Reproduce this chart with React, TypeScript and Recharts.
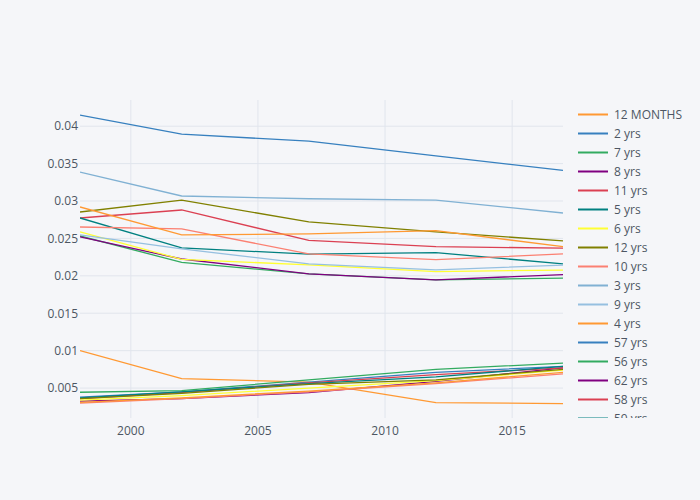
import React from "react";
import { LineChart, Line, XAxis, YAxis, CartesianGrid, Legend } from "recharts";

const years = [1998, 2002, 2007, 2012, 2017];

const seriesNames = [
  "12 MONTHS", "2 yrs", "7 yrs", "8 yrs", "11 yrs", "5 yrs", "6 yrs", "12 yrs",
  "10 yrs", "3 yrs", "9 yrs", "4 yrs", "57 yrs", "56 yrs", "62 yrs", "58 yrs",
  "59 yrs", "60 yrs", "61 yrs", "63 yrs", "64 yrs",
];

const seriesColors = [
  "#ff9933", "#3780bf", "#32ab60", "#800080", "#db4052", "#008080", "#ffff33", "#808000",
  "#fb8072", "#80b1d3", "#96c0e0", "#ff9933", "#3780bf", "#32ab60", "#800080", "#db4052",
  "#008080", "#ffff33", "#808000", "#fb8072", "#ff9933",
];

const v12Months = [0.0100, 0.00627, 0.00580, 0.00305, 0.00293];
const v2yrs = [0.04147, 0.03893, 0.0380, 0.03604, 0.0341];
const v7yrs = [0.02533, 0.02180, 0.02027, 0.01947, 0.0197];
const v8yrs = [0.0252, 0.02225, 0.02027, 0.01947, 0.02017];
const v11yrs = [0.02773, 0.0288, 0.02475, 0.0239, 0.0237];
const v5yrs = [0.02773, 0.02373, 0.0229, 0.0231, 0.0216];
const v6yrs = [0.02587, 0.0222, 0.02147, 0.02057, 0.02077];
const v12yrs = [0.02853, 0.03013, 0.0272, 0.02587, 0.02467];
const v10yrs = [0.02653, 0.02627, 0.02293, 0.02217, 0.02293];
const v3yrs = [0.03387, 0.03067, 0.0303, 0.03013, 0.0284];
const v9yrs = [0.02547, 0.0236, 0.0216, 0.0208, 0.02143];
const v4yrs = [0.0292, 0.02547, 0.0256, 0.02604, 0.0239];
const v57yrs = [0.0038, 0.0045, 0.0058, 0.0071, 0.0079];
const v56yrs = [0.00444, 0.00467, 0.0061, 0.0075, 0.00834];
const v62yrs = [0.00325, 0.0036, 0.0044, 0.0059, 0.0077];
const v58yrs = [0.0036, 0.0044, 0.0057, 0.0068, 0.0077];
const v59yrs = [0.0037, 0.0045, 0.0056, 0.0065, 0.0079];
const v60yrs = [0.0034, 0.0040, 0.0050, 0.0060, 0.0074];
const v61yrs = [0.0036, 0.0043, 0.0055, 0.0061, 0.0075];
const v63yrs = [0.0030, 0.0036, 0.0045, 0.0056, 0.0069];
const v64yrs = [0.0031, 0.0037, 0.0046, 0.0057, 0.0071];

const seriesValues = [
  v12Months, v2yrs, v7yrs, v8yrs, v11yrs, v5yrs, v6yrs, v12yrs, v10yrs, v3yrs, v9yrs,
  v4yrs, v57yrs, v56yrs, v62yrs, v58yrs, v59yrs, v60yrs, v61yrs, v63yrs, v64yrs,
];

// the legend box is scrolled in the reference: only its first 17 entries are in view
const legendVisibleCount = 17;

const xTicks = [2000, 2005, 2010, 2015];
const yTicks = [0.005, 0.01, 0.015, 0.02, 0.025, 0.03, 0.035, 0.04];

const data = years.map((year, i) => {
  const row: Record<string, number> = { year };
  seriesNames.forEach((name, s) => {
    row[name] = seriesValues[s][i];
  });
  return row;
});

const FONT = "'Open Sans', 'Noto Sans', sans-serif";
const TEXT = "#4D5663";

const renderLegend = () => (
  <div style={{ height: 313, overflow: "hidden", fontFamily: FONT, fontSize: 12, color: TEXT }}>
    {seriesNames.slice(0, legendVisibleCount).map((name, i) => (
      <div key={name} style={{ height: 19, display: "flex", alignItems: "center" }}>
        <svg width={36} height={19} style={{ flex: "none" }}>
          <line x1={0} y1={9.5} x2={30} y2={9.5} stroke={seriesColors[i]} strokeWidth={2} />
        </svg>
        <span style={{ whiteSpace: "nowrap" }}>{name}</span>
      </div>
    ))}
  </div>
);

export default function App() {
  return (
    <div style={{ position: "absolute", left: 0, top: 0, width: 700, height: 500, background: "#F5F6F9" }}>
      <LineChart
        width={700}
        height={500}
        data={data}
        margin={{ top: 100, right: 15, bottom: 0, left: 0 }}
        style={{ background: "#F5F6F9" }}
      >
        <CartesianGrid stroke="#E1E5ED" strokeWidth={1} horizontalValues={yTicks} verticalValues={xTicks} />
        <XAxis
          dataKey="year"
          type="number"
          domain={[1998, 2017]}
          ticks={xTicks}
          allowDataOverflow
          axisLine={false}
          tickLine={false}
          height={82}
          tick={{ fill: TEXT, fontSize: 12, fontFamily: FONT }}
        />
        <YAxis
          type="number"
          domain={[0.001, 0.0435]}
          ticks={yTicks}
          allowDataOverflow
          axisLine={false}
          tickLine={false}
          tickSize={0}
          tickMargin={2}
          width={80}
          tickFormatter={(v: number) => String(Number(v.toFixed(3)))}
          tick={{ fill: TEXT, fontSize: 12, fontFamily: FONT }}
        />
        <Legend
          layout="vertical"
          align="right"
          verticalAlign="top"
          content={renderLegend}
          wrapperStyle={{ left: 578, top: 105, width: 122 }}
        />
        {seriesNames.map((name, i) => (
          <Line
            key={name}
            dataKey={name}
            stroke={seriesColors[i]}
            strokeWidth={1.3}
            dot={false}
            isAnimationActive={false}
            type="linear"
          />
        ))}
      </LineChart>
    </div>
  );
}
